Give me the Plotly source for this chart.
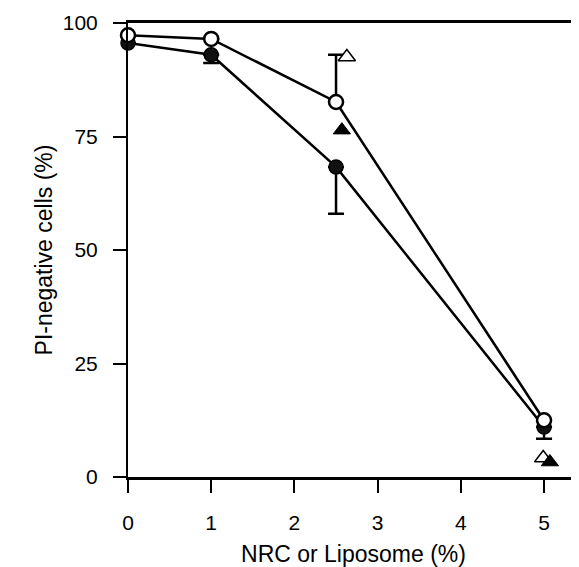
import plotly.graph_objects as go

# Concentration (%)
conc = [0, 1, 2.5, 5]

# Open circles series
open_circle_y = [97.3, 96.5, 82.6, 12.5]
open_circle_err_up = [None, None, 10.4, None]

# Filled circles series
filled_circle_y = [95.6, 93.0, 68.3, 11.0]
filled_circle_err_down = [None, 1.8, 10.3, 2.6]

# Triangles (slightly offset x positions as drawn)
open_tri_x = [2.63, 4.99]
open_tri_y = [92.5, 4.2]
filled_tri_x = [2.57, 5.07]
filled_tri_y = [76.4, 3.3]

x_ticks = [0, 1, 2, 3, 4, 5]
y_ticks = [0, 25, 50, 75, 100]

FONT = "Liberation Sans, Arial, Helvetica, sans-serif"

fig = go.Figure()

fig.add_trace(go.Scatter(
    x=conc, y=filled_circle_y, mode="lines+markers",
    line=dict(color="black", width=2.5),
    marker=dict(symbol="circle", size=14, color="#111111",
                line=dict(color="black", width=1.5)),
    error_y=dict(type="data", symmetric=False,
                 array=[0, 0, 0, 0], arrayminus=filled_circle_err_down,
                 color="black", thickness=2.5, width=8),
    cliponaxis=False, showlegend=False,
))

fig.add_trace(go.Scatter(
    x=conc, y=open_circle_y, mode="lines+markers",
    line=dict(color="black", width=2.5),
    marker=dict(symbol="circle", size=14, color="white",
                line=dict(color="black", width=2.5)),
    error_y=dict(type="data", symmetric=False,
                 array=open_circle_err_up, arrayminus=[0, 0, 0, 0],
                 color="black", thickness=2.5, width=8),
    cliponaxis=False, showlegend=False,
))

fig.add_trace(go.Scatter(
    x=open_tri_x, y=open_tri_y, mode="markers",
    marker=dict(symbol="triangle-up", size=15, color="white",
                line=dict(color="black", width=1.5)),
    cliponaxis=False, showlegend=False,
))

fig.add_trace(go.Scatter(
    x=filled_tri_x, y=filled_tri_y, mode="markers",
    marker=dict(symbol="triangle-up", size=15, color="black",
                line=dict(color="black", width=1)),
    cliponaxis=False, showlegend=False,
))

fig.update_layout(
    width=571, height=559,
    margin=dict(l=120, r=0, t=15, b=90, autoexpand=False),
    paper_bgcolor="white", plot_bgcolor="white",
    font=dict(family=FONT, color="black", size=21),
    xaxis=dict(
        range=[0, 5.42], tickvals=x_ticks, ticktext=[str(v) for v in x_ticks],
        showgrid=False, zeroline=False,
        showline=True, linecolor="black", linewidth=3, mirror=True,
        ticks="outside", ticklen=13, tickwidth=2, tickcolor="black",
        tickfont=dict(size=21), ticklabelstandoff=12,
        title=dict(text="NRC or Liposome (%)", font=dict(size=23), standoff=18),
        automargin=False,
    ),
    yaxis=dict(
        range=[0, 100], tickvals=y_ticks, ticktext=[str(v) for v in y_ticks],
        showgrid=False, zeroline=False,
        showline=True, linecolor="black", linewidth=2,
        ticks="outside", ticklen=13, tickwidth=2, tickcolor="black",
        tickfont=dict(size=21), ticklabelstandoff=11,
        title=dict(text="PI-negative cells (%)", font=dict(size=23), standoff=4),
        automargin=False,
    ),
)

fig.write_html("out.html")
